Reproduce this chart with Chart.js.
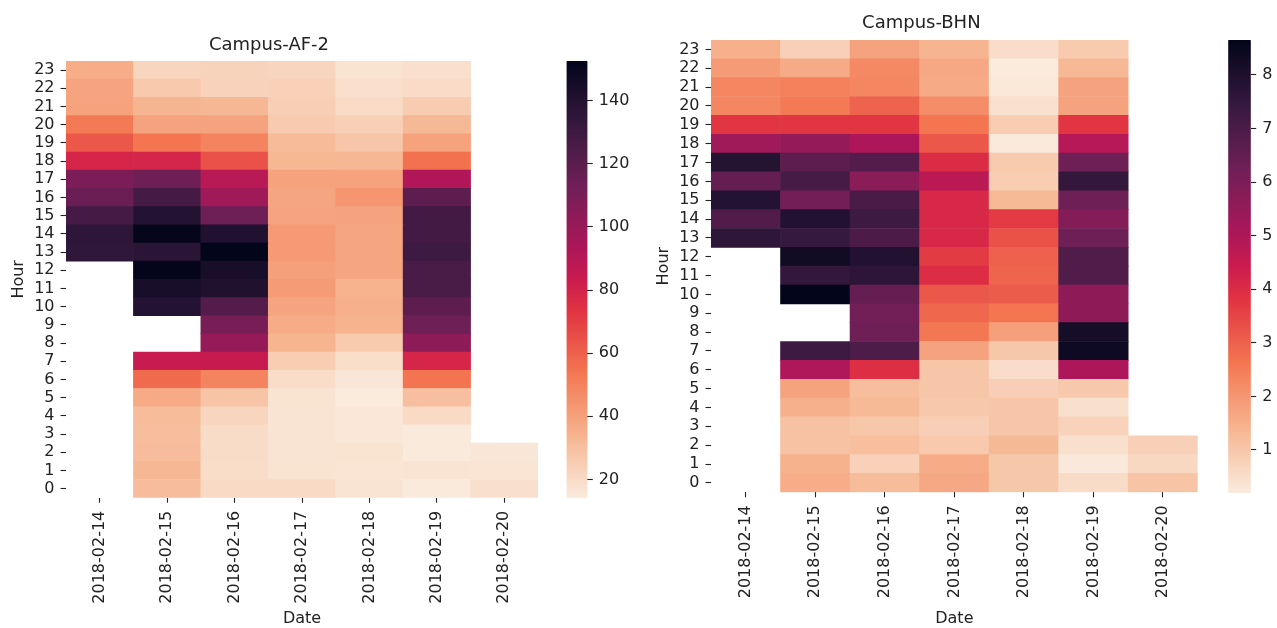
<!DOCTYPE html>
<html>
<head>
<meta charset="utf-8">
<script src="https://cdn.jsdelivr.net/npm/chart.js@4.4.1/dist/chart.umd.min.js"></script>
<style>
  html, body { margin: 0; padding: 0; background: #ffffff; }
  body { width: 1277px; height: 628px; position: relative; overflow: hidden; }
  canvas { position: absolute; top: 0; }
</style>
</head>
<body>
<canvas id="hmAF" width="548" height="628" style="left:0px"></canvas>
<canvas id="cbAF" width="90" height="628" style="left:548px"></canvas>
<canvas id="hmBHN" width="563" height="628" style="left:645px"></canvas>
<canvas id="cbBHN" width="67" height="628" style="left:1210px"></canvas>
<script>
// ---- categories and tick labels ----
const dates = ['2018-02-14', '2018-02-15', '2018-02-16', '2018-02-17', '2018-02-18', '2018-02-19', '2018-02-20'];
const hours = [0, 1, 2, 3, 4, 5, 6, 7, 8, 9, 10, 11, 12, 13, 14, 15, 16, 17, 18, 19, 20, 21, 22, 23];
const afTicks = [20, 40, 60, 80, 100, 120, 140];
const bhnTicks = [1, 2, 3, 4, 5, 6, 7, 8];

// ---- Campus-AF-2: one array per date, indexed by hour 0..23 (null = no reading) ----
const af2_0214 = [null, null, null, null, null, null, null, null, null, null, null, null, null, 135, 135.6, 127.5, 115, 109, 79, 62.6, 52.5, 39.7, 39.1, 36.2];
const af2_0215 = [31, 32.6, 31, 30.5, 31.1, 37.2, 57.3, 84.5, null, null, 140, 143.9, 152.3, 136.8, 152, 139.5, 127.5, 114, 79.5, 53.7, 39.4, 33.6, 26.5, 22.1];
const af2_0216 = [20.3, 19.2, 19.5, 19.5, 22.1, 28.3, 49.2, 84.6, 100.8, 110.8, 122.9, 141, 144, 152.6, 140.7, 114, 97.5, 89.3, 64.6, 49.2, 39.4, 32.6, 23.1, 22.9];
const af2_0217 = [20.3, 17.2, 16.8, 16.8, 16.8, 17.2, 19.4, 25, 34, 36.6, 39.1, 41.6, 40.3, 42.3, 42.3, 39.1, 38.5, 39.7, 33, 31.4, 25.7, 24.3, 23.5, 22.1];
const af2_0218 = [16.8, 16.4, 17.2, 15.6, 15.6, 14.2, 16, 19, 26, 34.4, 35.3, 34.4, 38.5, 38.5, 38.5, 39.4, 43.5, 39.7, 32.6, 27.5, 23.9, 20.1, 18.4, 17.2];
const af2_0219 = [14.6, 16.8, 14.6, 14.6, 20.3, 30, 54.5, 79, 104, 114, 119, 126, 126, 130, 128, 128, 119, 92, 55, 39.7, 32.3, 25.4, 19.9, 18.4];
const af2_0220 = [18, 16.4, 16, null, null, null, null, null, null, null, null, null, null, null, null, null, null, null, null, null, null, null, null, null];

// ---- Campus-BHN ----
const bhn_0214 = [null, null, null, null, null, null, null, null, null, null, null, null, null, 7.6, 6.85, 7.86, 6.47, 7.83, 5.28, 3.8, 2.3, 2.3, 1.9, 1.48];
const bhn_0215 = [1.55, 1.45, 1.1, 1.1, 1.5, 1.75, 5.0, 7.3, null, null, 8.65, 7.5, 8.3, 7.42, 7.9, 6.16, 7.1, 6.6, 5.5, 3.8, 2.55, 2.4, 1.6, 0.8];
const bhn_0216 = [1.24, 0.78, 1.18, 1.0, 1.29, 1.2, 3.94, 6.93, 6.28, 6.17, 6.48, 7.67, 7.9, 6.98, 7.3, 7.04, 5.72, 6.83, 5.03, 3.8, 2.96, 2.29, 2.25, 1.74];
const bhn_0217 = [1.65, 1.57, 0.95, 0.82, 0.98, 1.03, 1.05, 1.75, 2.6, 2.87, 3.16, 3.97, 3.68, 4.1, 4.1, 4.1, 4.75, 4.0, 3.16, 2.62, 2.18, 1.6, 1.65, 1.4];
const bhn_0218 = [1.0, 1.0, 1.31, 1.02, 1.05, 0.82, 0.51, 1.0, 1.8, 2.62, 3.09, 2.95, 2.98, 3.29, 3.7, 1.29, 0.87, 0.93, 0.23, 0.87, 0.43, 0.27, 0.21, 0.51];
const bhn_0219 = [0.55, 0.25, 0.45, 0.75, 0.45, 0.98, 5.03, 8.36, 8.19, 5.65, 5.65, 6.9, 6.9, 6.3, 5.84, 6.3, 7.5, 6.3, 4.83, 3.8, 1.74, 1.74, 1.33, 0.93];
const bhn_0220 = [1.07, 0.63, 0.8, null, null, null, null, null, null, null, null, null, null, null, null, null, null, null, null, null, null, null, null, null];

const afColumns = [af2_0214, af2_0215, af2_0216, af2_0217, af2_0218, af2_0219, af2_0220];
const bhnColumns = [bhn_0214, bhn_0215, bhn_0216, bhn_0217, bhn_0218, bhn_0219, bhn_0220];

// ---- styling ----
const FONT = 'DejaVu Sans';
const INK = '#222222';
const TICK_SIZE = 16;

// "rocket" colour map stops (dark -> light); used reversed so low values are light
const ROCKET = [
  [0.000, [3, 5, 26]],
  [0.143, [53, 25, 62]],
  [0.286, [112, 31, 87]],
  [0.429, [173, 23, 89]],
  [0.500, [203, 27, 79]],
  [0.571, [225, 51, 66]],
  [0.714, [243, 118, 81]],
  [0.857, [246, 180, 143]],
  [1.000, [250, 235, 221]]
];
function rocketR(f) {
  const t = 1 - Math.min(1, Math.max(0, f));
  for (let i = 1; i < ROCKET.length; i++) {
    if (t <= ROCKET[i][0]) {
      const [t0, c0] = ROCKET[i - 1];
      const [t1, c1] = ROCKET[i];
      const k = (t - t0) / (t1 - t0);
      return 'rgb(' + c0.map((c, j) => Math.round(c + (c1[j] - c) * k)).join(',') + ')';
    }
  }
  return 'rgb(3,5,26)';
}

function extent(columns) {
  const all = columns.flat().filter(v => v != null);
  return [Math.min(...all), Math.max(...all)];
}

function heatmap(id, title, columns, cfg) {
  const [vmin, vmax] = extent(columns);
  const datasets = hours.map(h => ({
    label: String(h),
    data: columns.map(col => (col[h] == null ? null : [h - 0.5, h + 0.5])),
    backgroundColor: columns.map(col => (col[h] == null ? 'rgba(0,0,0,0)' : rocketR((col[h] - vmin) / (vmax - vmin)))),
    borderWidth: 0,
    barPercentage: 1,
    categoryPercentage: 1,
    grouped: false
  }));
  return new Chart(document.getElementById(id), {
    type: 'bar',
    data: { labels: dates, datasets },
    options: {
      responsive: false,
      animation: false,
      events: [],
      layout: { padding: { left: 0, right: cfg.padRight, top: 0, bottom: 0 } },
      plugins: {
        legend: { display: false },
        tooltip: { enabled: false },
        title: {
          display: true,
          text: title,
          color: INK,
          font: { family: FONT, size: 18, weight: 'normal', lineHeight: 1.2 },
          padding: { top: cfg.titleTop, bottom: cfg.titleBottom }
        }
      },
      scales: {
        x: {
          type: 'category',
          offset: true,
          grid: { display: true, drawOnChartArea: false, offset: false, tickLength: 5, tickColor: INK, tickWidth: 1.1 },
          border: { display: false },
          ticks: { minRotation: 90, maxRotation: 90, autoSkip: false, padding: 8, color: INK, font: { family: FONT, size: TICK_SIZE } },
          title: { display: true, text: 'Date', color: INK, font: { family: FONT, size: TICK_SIZE, lineHeight: 1.2 }, padding: { top: 0, bottom: 0 } },
          afterFit: s => { s.height = cfg.xHeight; }
        },
        y: {
          type: 'linear',
          min: -0.5,
          max: 23.5,
          afterBuildTicks: s => { s.ticks = hours.map(h => ({ value: h })); },
          grid: { display: true, drawOnChartArea: false, tickLength: 5.5, tickColor: INK, tickWidth: 1.1 },
          border: { display: false },
          ticks: { autoSkip: false, padding: 6, color: INK, font: { family: FONT, size: TICK_SIZE }, callback: v => String(v) },
          title: { display: true, text: 'Hour', color: INK, font: { family: FONT, size: TICK_SIZE, lineHeight: 1.2 }, padding: { top: 9, bottom: 0 } },
          afterFit: s => { s.width = 66; }
        }
      }
    }
  });
}

// colour bar: the scale maps each pixel row back to a value, which is painted with the map
const gradientFill = {
  id: 'gradientFill',
  beforeDatasetsDraw(chart) {
    const { ctx, chartArea: a } = chart;
    const ys = chart.scales.y;
    const lo = ys.min, hi = ys.max;
    ctx.save();
    for (let y = Math.floor(a.top); y < Math.ceil(a.bottom); y++) {
      const v = ys.getValueForPixel(y + 0.5);
      ctx.fillStyle = rocketR((v - lo) / (hi - lo));
      const y0 = Math.max(y, a.top), y1 = Math.min(y + 1, a.bottom);
      ctx.fillRect(a.left, y0, a.right - a.left, y1 - y0 + 0.5);
    }
    ctx.restore();
  }
};

function colorbar(id, columns, tickVals, cfg) {
  const [vmin, vmax] = extent(columns);
  return new Chart(document.getElementById(id), {
    type: 'scatter',
    data: { datasets: [] },
    plugins: [gradientFill],
    options: {
      responsive: false,
      animation: false,
      events: [],
      layout: { padding: { left: cfg.padLeft, right: 0, top: cfg.top, bottom: cfg.bottom } },
      plugins: { legend: { display: false }, tooltip: { enabled: false } },
      scales: {
        x: { display: false, min: 0, max: 1 },
        y: {
          type: 'linear',
          position: 'right',
          min: vmin,
          max: vmax,
          afterBuildTicks: s => { s.ticks = tickVals.map(v => ({ value: v })); },
          grid: { display: true, drawOnChartArea: false, tickLength: 5.5, tickColor: INK, tickWidth: 1.1 },
          border: { display: false },
          ticks: { autoSkip: false, padding: 6, color: INK, font: { family: FONT, size: TICK_SIZE }, callback: v => String(v) },
          afterFit: s => { s.width = cfg.axisWidth; }
        }
      }
    }
  });
}

heatmap('hmAF', 'Campus-AF-2', afColumns, { padRight: 10, titleTop: 34.9, titleBottom: 4.5, xHeight: 130.3 });
colorbar('cbAF', afColumns, afTicks, { padLeft: 18.7, top: 61, bottom: 130.3, axisWidth: 90 - 18.7 - 20.6 });
heatmap('hmBHN', 'Campus-BHN', bhnColumns, { padRight: 10.3, titleTop: 12.6, titleBottom: 5.8, xHeight: 135.7 });
colorbar('cbBHN', bhnColumns, bhnTicks, { padLeft: 18.3, top: 40, bottom: 135.7, axisWidth: 67 - 18.3 - 22.4 });
</script>
</body>
</html>
